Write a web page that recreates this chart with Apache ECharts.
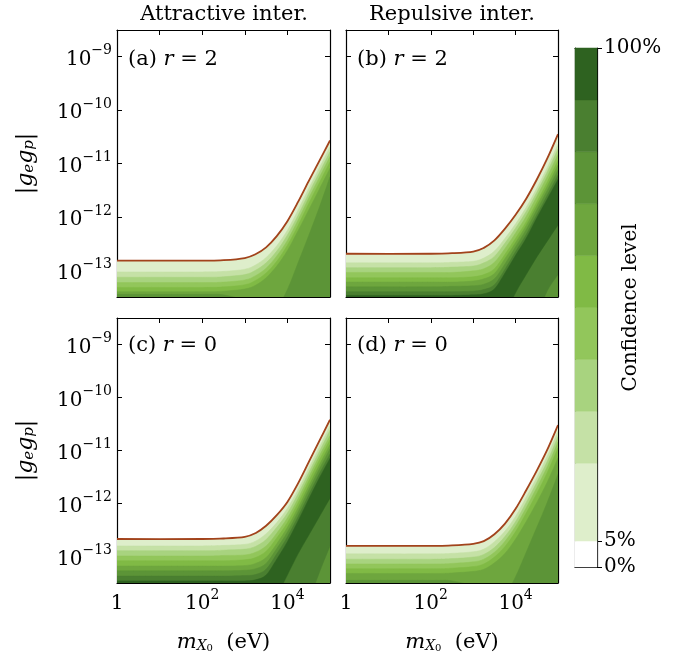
<!DOCTYPE html>
<html>
<head>
<meta charset="utf-8">
<script src="https://cdn.jsdelivr.net/npm/echarts@6/dist/echarts.min.js"></script>
<style>
html, body { margin: 0; padding: 0; background: #fff; }
#chart { width: 693px; height: 657px; }
</style>
</head>
<body>
<div id="chart"></div>
<script>
var massLog = [0, 2, 2.5, 3, 3.25, 3.5, 3.75, 4, 4.25, 4.5, 4.75, 5]
var confLevels = [0, 5, 20, 30, 40, 50, 60, 70, 80, 90, 100]
var confColors = ['#ffffff', '#deeecb', '#c5e1a6', '#a8d37f', '#92c65b', '#80ba45', '#6ea63e', '#5c9437', '#4a7f30', '#2e6220']
var yTicks = [-13, -12, -11, -10, -9]
var xTicks = [0, 1, 2, 3, 4, 5]
var xLabelTicks = [0, 2, 4]
var barTicks = [0, 5, 100]

// (a) attractive, r = 2  (first row = 5% line, drawn in brown)
var aLevels = [5, 20, 30, 40, 50, 60, 70]
var aUpper = [
    [-12.82, -12.82, -12.81, -12.77, -12.70, -12.57, -12.36, -12.08, -11.72, -11.33, -10.95, -10.57],
    [-13.03, -13.03, -13.02, -12.98, -12.90, -12.76, -12.54, -12.25, -11.87, -11.47, -11.08, -10.69],
    [-13.13, -13.13, -13.12, -13.08, -13.00, -12.86, -12.64, -12.34, -11.97, -11.56, -11.17, -10.78],
    [-13.23, -13.23, -13.22, -13.18, -13.10, -12.96, -12.73, -12.44, -12.06, -11.65, -11.26, -10.87],
    [-13.32, -13.32, -13.31, -13.27, -13.19, -13.05, -12.83, -12.53, -12.16, -11.75, -11.36, -10.97],
    [-13.40, -13.40, -13.39, -13.35, -13.28, -13.14, -12.92, -12.63, -12.26, -11.87, -11.48, -11.09],
    [-13.45, -13.45, -13.46, -13.56, -13.64, -13.72, -13.70, -13.36, -12.86, -12.35, -11.82, -11.25]
]

// (b) repulsive, r = 2
var bLevels = [5, 20, 30, 40, 50, 60, 70, 80, 90]
var bUpper = [
    [-12.69, -12.69, -12.68, -12.65, -12.58, -12.44, -12.22, -11.96, -11.66, -11.30, -10.90, -10.45],
    [-12.86, -12.86, -12.85, -12.83, -12.77, -12.64, -12.40, -12.13, -11.82, -11.46, -11.07, -10.64],
    [-12.95, -12.95, -12.94, -12.92, -12.86, -12.74, -12.49, -12.21, -11.90, -11.54, -11.15, -10.73],
    [-13.04, -13.04, -13.04, -13.01, -12.97, -12.85, -12.59, -12.30, -11.99, -11.62, -11.24, -10.83],
    [-13.14, -13.14, -13.14, -13.12, -13.08, -12.97, -12.70, -12.40, -12.09, -11.72, -11.34, -10.94],
    [-13.22, -13.22, -13.22, -13.20, -13.16, -13.06, -12.78, -12.48, -12.16, -11.79, -11.42, -11.03],
    [-13.31, -13.31, -13.30, -13.29, -13.26, -13.16, -12.88, -12.56, -12.24, -11.87, -11.50, -11.12],
    [-13.40, -13.40, -13.40, -13.39, -13.36, -13.27, -12.98, -12.65, -12.33, -11.96, -11.59, -11.22],
    [-13.47, -13.47, -13.47, -13.46, -13.44, -13.35, -13.05, -12.72, -12.40, -12.02, -11.66, -11.30]
]
var bLowMass90 = [3.75, 4, 4.25, 4.5, 4.75, 5]
var bLow90 = [-13.85, -13.42, -13.08, -12.75, -12.45, -12.15]
var bLowMass80 = [4.5, 4.75, 5]
var bLow80 = [-13.85, -13.38, -13.08]

// (c) attractive, r = 0
var cLevels = [5, 20, 30, 40, 50, 60, 70, 80, 90]
var cUpper = [
    [-12.67, -12.67, -12.66, -12.63, -12.56, -12.42, -12.22, -11.97, -11.62, -11.22, -10.82, -10.42],
    [-12.80, -12.80, -12.79, -12.77, -12.71, -12.57, -12.36, -12.09, -11.74, -11.34, -10.94, -10.54],
    [-12.89, -12.89, -12.88, -12.86, -12.81, -12.68, -12.45, -12.18, -11.82, -11.42, -11.02, -10.62],
    [-12.99, -12.99, -12.98, -12.97, -12.92, -12.80, -12.56, -12.27, -11.91, -11.50, -11.10, -10.72],
    [-13.08, -13.08, -13.08, -13.06, -13.02, -12.90, -12.65, -12.36, -11.99, -11.58, -11.18, -10.80],
    [-13.18, -13.18, -13.18, -13.17, -13.13, -13.02, -12.76, -12.45, -12.08, -11.67, -11.27, -10.89],
    [-13.27, -13.27, -13.27, -13.26, -13.23, -13.13, -12.85, -12.54, -12.16, -11.75, -11.35, -10.97],
    [-13.37, -13.37, -13.37, -13.36, -13.34, -13.24, -12.95, -12.63, -12.25, -11.84, -11.44, -11.07],
    [-13.46, -13.46, -13.46, -13.46, -13.44, -13.35, -13.05, -12.72, -12.33, -11.92, -11.52, -11.15]
]
var cLowMass90 = [3.75, 4, 4.25, 4.5, 4.75, 5]
var cLow90 = [-13.75, -13.35, -12.95, -12.60, -12.25, -11.90]
var cLowMass80 = [4.5, 4.75, 5]
var cLow80 = [-13.85, -13.30, -12.80]

// (d) repulsive, r = 0
var dLevels = [5, 20, 30, 40, 50, 60, 70]
var dUpper = [
    [-12.80, -12.80, -12.79, -12.76, -12.71, -12.58, -12.38, -12.10, -11.75, -11.38, -10.98, -10.52],
    [-12.95, -12.95, -12.94, -12.91, -12.86, -12.72, -12.52, -12.24, -11.88, -11.51, -11.10, -10.64],
    [-13.05, -13.05, -13.04, -13.01, -12.96, -12.83, -12.62, -12.34, -11.98, -11.60, -11.20, -10.74],
    [-13.14, -13.14, -13.13, -13.10, -13.05, -12.92, -12.71, -12.43, -12.08, -11.70, -11.30, -10.84],
    [-13.23, -13.23, -13.22, -13.19, -13.14, -13.01, -12.81, -12.53, -12.18, -11.81, -11.41, -10.95],
    [-13.32, -13.32, -13.31, -13.28, -13.24, -13.12, -12.94, -12.67, -12.34, -11.98, -11.59, -11.14],
    [-13.45, -13.45, -13.46, -13.56, -13.64, -13.72, -13.72, -13.38, -12.92, -12.45, -11.97, -11.45]
]

var F = 'DejaVu Serif'
var BROWN = '#a2431c'
var yMin = -13.5, yMax = -8.5

var panels = [
    { levels: aLevels, upper: aUpper, lower: [], label: '(a)', r: '2' },
    { levels: bLevels, upper: bUpper, lower: [[8, bLowMass90, bLow90], [7, bLowMass80, bLow80]], label: '(b)', r: '2' },
    { levels: cLevels, upper: cUpper, lower: [[8, cLowMass90, cLow90], [7, cLowMass80, cLow80]], label: '(c)', r: '0' },
    { levels: dLevels, upper: dUpper, lower: [], label: '(d)', r: '0' }
]
var grids = [
    { left: 117, top: 30, width: 213, height: 267 },
    { left: 346, top: 30, width: 212, height: 267 },
    { left: 117, top: 318, width: 213, height: 265 },
    { left: 346, top: 318, width: 212, height: 265 },
    { left: 575, top: 48, width: 22, height: 519 }
]
grids.forEach(function (g) { g.outerBoundsMode = 'none' })

// curve through pixel points (Catmull-Rom as cubic beziers)
function curvePath(pts, start) {
    var d = start ? 'M' + pts[0][0] + ',' + pts[0][1] : 'L' + pts[0][0] + ',' + pts[0][1]
    for (var i = 0; i < pts.length - 1; i++) {
        var p0 = pts[i - 1] || pts[i], p1 = pts[i], p2 = pts[i + 1], p3 = pts[i + 2] || p2
        var c1 = [p1[0] + (p2[0] - p0[0]) / 6, p1[1] + (p2[1] - p0[1]) / 6]
        var c2 = [p2[0] - (p3[0] - p1[0]) / 6, p2[1] - (p3[1] - p1[1]) / 6]
        d += ' C' + c1[0] + ',' + c1[1] + ' ' + c2[0] + ',' + c2[1] + ' ' + p2[0] + ',' + p2[1]
    }
    return d
}

var numRich = {
    b: { fontSize: 20, fontFamily: F, color: '#000', verticalAlign: 'bottom', lineHeight: 26 },
    s: { fontSize: 14, fontFamily: F, color: '#000', verticalAlign: 'top', lineHeight: 12 }
}
var frame = { show: true, onZero: false, lineStyle: { color: '#000', width: 1.2 } }
var tickIn = function (vals) {
    return { show: true, inside: true, length: 5, customValues: vals, lineStyle: { color: '#000', width: 1 } }
}

var xAxes = [], yAxes = [], series = []
panels.forEach(function (p, k) {
    var bottomRow = k >= 2, leftCol = k % 2 === 0
    xAxes.push({
        type: 'value', gridIndex: k, position: 'bottom', min: 0, max: 5,
        axisLine: frame, axisTick: tickIn(xTicks), splitLine: { show: false },
        axisLabel: {
            show: bottomRow, customValues: xLabelTicks, margin: 5, rich: numRich,
            formatter: function (v) { return v === 0 ? '{b|1}' : '{b|10}{s|' + v + '}' }
        },
        name: bottomRow ? '{i|m}{s|X}{ss|0}{t|  (eV)}' : '',
        nameLocation: 'middle', nameGap: 44, nameMoveOverlap: false,
        nameTextStyle: {
            rich: {
                i: { fontSize: 21, fontFamily: F, fontStyle: 'italic', verticalAlign: 'bottom', lineHeight: 26 },
                s: { fontSize: 14, fontFamily: F, fontStyle: 'italic', verticalAlign: 'bottom', lineHeight: 18 },
                ss: { fontSize: 10, fontFamily: F, verticalAlign: 'bottom', lineHeight: 10 },
                t: { fontSize: 21, fontFamily: F, verticalAlign: 'bottom', lineHeight: 26 }
            }
        }
    })
    xAxes.push({
        type: 'value', gridIndex: k, position: 'top', min: 0, max: 5,
        axisLine: frame, axisTick: tickIn(xTicks), axisLabel: { show: false }, splitLine: { show: false }
    })
    yAxes.push({
        type: 'value', gridIndex: k, position: 'left', min: yMin, max: yMax,
        axisLine: frame, axisTick: tickIn(yTicks), splitLine: { show: false },
        axisLabel: {
            show: leftCol, customValues: yTicks, margin: 5, rich: numRich,
            formatter: function (v) { return '{b|10}{s|\u2212' + (-v) + '}' }
        },
        name: leftCol ? '{t||}{i|g}{s|e}{i|g}{s|p}{t||}' : '',
        nameLocation: 'middle', nameRotate: 90, nameGap: 80, nameMoveOverlap: false,
        nameTextStyle: {
            rich: {
                i: { fontSize: 22, fontFamily: F, fontStyle: 'italic', verticalAlign: 'bottom', lineHeight: 28 },
                s: { fontSize: 15, fontFamily: F, fontStyle: 'italic', verticalAlign: 'bottom', lineHeight: 20 },
                t: { fontSize: 22, fontFamily: F, verticalAlign: 'bottom', lineHeight: 28 }
            }
        }
    })
    yAxes.push({
        type: 'value', gridIndex: k, position: 'right', min: yMin, max: yMax,
        axisLine: frame, axisTick: tickIn(yTicks), axisLabel: { show: false }, splitLine: { show: false }
    })

    // filled contour regions: region "confidence >= level", painted from low to high level
    series.push({
        type: 'custom', xAxisIndex: 2 * k, yAxisIndex: 2 * k, clip: true, silent: true, z: 2,
        data: p.levels.map(function (L, i) { return [0, yMin, i] }),
        renderItem: function (params, api) {
            var i = params.dataIndex
            var color = confColors[confLevels.indexOf(p.levels[i])]
            var top = p.upper[i].map(function (g, j) { return api.coord([massLog[j], g]) })
            var d = curvePath(top, true)
            var low = p.lower.filter(function (q) { return q[0] === i })[0]
            var endX = 5
            if (low) {
                var bot = []
                for (var j = low[1].length - 1; j >= 0; j--) bot.push(api.coord([low[1][j], low[2][j]]))
                d += ' ' + curvePath(bot, false)
                endX = low[1][0]
            } else {
                var c = api.coord([5, yMin - 1])
                d += ' L' + c[0] + ',' + c[1]
            }
            var e = api.coord([endX, yMin - 1]), s = api.coord([0, yMin - 1])
            d += ' L' + e[0] + ',' + e[1] + ' L' + s[0] + ',' + s[1] + ' Z'
            return {
                type: 'path', z2: i,
                shape: { pathData: d },
                style: { fill: color, stroke: color, lineWidth: 0.5 }
            }
        }
    })
    // 5% boundary line
    series.push({
        type: 'custom', xAxisIndex: 2 * k, yAxisIndex: 2 * k, clip: true, silent: true, z: 5,
        data: [[0, yMin]],
        renderItem: function (params, api) {
            var pts = p.upper[0].map(function (g, j) { return api.coord([massLog[j], g]) })
            return {
                type: 'path',
                shape: { pathData: curvePath(pts, true) },
                style: { fill: null, stroke: BROWN, lineWidth: 1.8 }
            }
        }
    })
})

// colour bar
xAxes.push({
    type: 'value', gridIndex: 4, position: 'bottom', min: 0, max: 1,
    axisLine: frame, axisTick: { show: false }, axisLabel: { show: false }, splitLine: { show: false }
})
xAxes.push({
    type: 'value', gridIndex: 4, position: 'top', min: 0, max: 1,
    axisLine: frame, axisTick: { show: false }, axisLabel: { show: false }, splitLine: { show: false }
})
yAxes.push({
    type: 'value', gridIndex: 4, position: 'right', min: 0, max: 100,
    axisLine: frame, splitLine: { show: false },
    axisTick: { show: true, inside: false, length: 5, customValues: barTicks, lineStyle: { color: '#000', width: 1 } },
    axisLabel: {
        customValues: barTicks, margin: 7, fontSize: 20, fontFamily: F, color: '#000',
        formatter: '{value}%'
    },
    name: 'Confidence level', nameLocation: 'middle', nameRotate: 90, nameGap: 24, nameMoveOverlap: false,
    nameTextStyle: { fontSize: 20, fontFamily: F, color: '#000' }
})
yAxes.push({
    type: 'value', gridIndex: 4, position: 'left', min: 0, max: 100,
    axisLine: frame, axisTick: { show: false }, axisLabel: { show: false }, splitLine: { show: false }
})
series.push({
    type: 'custom', xAxisIndex: 8, yAxisIndex: 8, silent: true, z: 1,
    data: confColors.map(function (c, i) { return [0, confLevels[i], i] }),
    renderItem: function (params, api) {
        var i = params.dataIndex
        var p0 = api.coord([0, confLevels[i]])
        var p1 = api.coord([1, confLevels[i + 1]])
        return {
            type: 'rect',
            shape: { x: p0[0], y: p1[1], width: p1[0] - p0[0], height: p0[1] - p1[1] },
            style: { fill: confColors[i], stroke: confColors[i], lineWidth: 0.5 }
        }
    }
})

var labelRich = {
    n: { fontSize: 21, fontFamily: F, color: '#000' },
    i: { fontSize: 21, fontFamily: F, fontStyle: 'italic', color: '#000' }
}
var texts = [
    { type: 'text', x: 224, y: 15, style: { text: 'Attractive inter.', fontSize: 21, fontFamily: F, fill: '#000', align: 'center', verticalAlign: 'middle' } },
    { type: 'text', x: 452, y: 15, style: { text: 'Repulsive inter.', fontSize: 21, fontFamily: F, fill: '#000', align: 'center', verticalAlign: 'middle' } }
]
panels.forEach(function (p, k) {
    texts.push({
        type: 'text', x: grids[k].left + 11, y: k < 2 ? 60 : 346,
        style: {
            text: '{n|' + p.label + ' }{i|r}{n| = ' + p.r + '}', rich: labelRich,
            align: 'left', verticalAlign: 'middle'
        }
    })
})

var chart = echarts.init(document.getElementById('chart'))
chart.setOption({
    animation: false,
    grid: grids,
    xAxis: xAxes,
    yAxis: yAxes,
    series: series,
    graphic: texts
})
</script>
</body>
</html>
